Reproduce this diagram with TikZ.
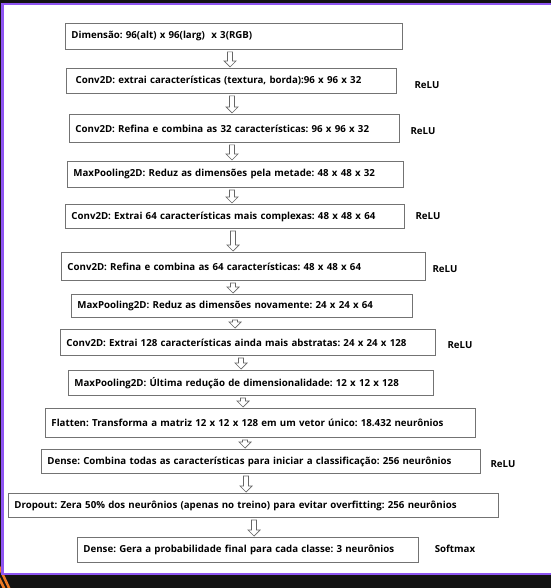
\documentclass[tikz,border=0pt]{standalone}
\usepackage{fontspec}
\setmainfont{Open Sans}
\usetikzlibrary{calc}

\definecolor{frame}{HTML}{131313}
\definecolor{edge}{HTML}{8E55F2}
\definecolor{stripe}{HTML}{F07A24}

\begin{document}
\frenchspacing
\begin{tikzpicture}[x=1pt, y=-1pt,
        layer/.style={rectangle, draw=black!55, line width=0.9pt, fill=white, anchor=north west, align=left, inner xsep=6pt, inner ysep=0pt, font=\bfseries\fontsize{9.7}{12}\selectfont},
        act/.style={font=\bfseries\fontsize{9.7}{12}\selectfont},
        flow/.style={draw=black!60, line width=0.7pt, fill=white,
            to path={($(\tikztostart)+(-2.5,2)$) -- ($(\tikztostart)+(2.5,2)$) -- ($(\tikztotarget)+(2.5,-7)$) -- ($(\tikztotarget)+(6,-7)$) -- ($(\tikztotarget)+(0,-1)$) -- ($(\tikztotarget)+(-6,-7)$) -- ($(\tikztotarget)+(-2.5,-7)$) -- cycle}}
    ]
        \useasboundingbox (0,0) rectangle (551,588);
        % screen frame
        \fill[frame] (0,0) rectangle (551,588);
        \begin{scope}
            \clip (0,560) rectangle (20,588);
            \draw[stripe, line width=2.5pt] (-4,560) -- (10,590);
            \draw[stripe, line width=2.5pt] (-2,576) -- (6,592);
        \end{scope}
        \fill[edge] (1,3) rectangle (551,575);
        \fill[white] (3.5,5.5) rectangle (551,572.5);

        % layers
        \node[layer, minimum width=337pt, minimum height=26pt, text width=325pt] (b1) at (65,23) {Dimensão: 96(alt) x 96(larg)\ \ x 3(RGB)};
        \node[layer, minimum width=330pt, minimum height=25pt, text width=318pt] (b2) at (66,68) {\ Conv2D: extrai características (textura, borda):96 x 96 x 32};
        \node[layer, minimum width=330pt, minimum height=28pt, text width=318pt] (b3) at (69,114) {Conv2D: Refina e combina as 32 características: 96 x 96 x 32};
        \node[layer, minimum width=336pt, minimum height=26pt, text width=324pt] (b4) at (67,161) {MaxPooling2D: Reduz as dimensões pela metade: 48 x 48 x 32};
        \node[layer, minimum width=339pt, minimum height=24pt, text width=327pt] (b5) at (65,204) {Conv2D: Extrai 64 características mais complexas: 48 x 48 x 64};
        \node[layer, minimum width=364pt, minimum height=28pt, text width=352pt] (b6) at (61,252) {Conv2D: Refina e combina as 64 características: 48 x 48 x 64};
        \node[layer, minimum width=341pt, minimum height=23pt, text width=329pt] (b7) at (71,294) {MaxPooling2D: Reduz as dimensões novamente: 24 x 24 x 64};
        \node[layer, minimum width=375pt, minimum height=26pt, text width=363pt] (b8) at (60,329) {Conv2D: Extrai 128 características ainda mais abstratas: 24 x 24 x 128};
        \node[layer, minimum width=365pt, minimum height=25pt, text width=353pt] (b9) at (68,370) {MaxPooling2D: Última redução de dimensionalidade: 12 x 12 x 128};
        \node[layer, minimum width=430pt, minimum height=29pt, text width=418pt] (b10) at (45,408) {Flatten: Transforma a matriz 12 x 12 x 128 em um vetor único: 18.432 neurônios};
        \node[layer, minimum width=439pt, minimum height=24pt, text width=427pt] (b11) at (41,449) {Dense: Combina todas as características para iniciar a classificação: 256 neurônios};
        \node[layer, minimum width=490pt, minimum height=24pt, text width=478pt] (b12) at (8,493) {Dropout: Zera 50\% dos neurônios (apenas no treino) para evitar overfitting: 256 neurônios};
        \node[layer, minimum width=341pt, minimum height=25pt, text width=329pt] (b13) at (77,537) {Dense: Gera a probabilidade final para cada classe: 3 neurônios};

        % activations
        \node[act] (r2) at (427,85) {ReLU};
        \node[act] (r3) at (423,131) {ReLU};
        \node[act] (r5) at (428,216) {ReLU};
        \node[act] (r6) at (445,269) {ReLU};
        \node[act] (r8) at (460,345) {ReLU};
        \node[act] (r11) at (503,464) {ReLU};
        \node[act] (s13) at (455,549) {Softmax};

        % hollow arrows
        \draw[flow] (b1.south -| 230,0) to (b2.north -| 230,0);
        \draw[flow] (b2.south -| 232,0) to (b3.north -| 232,0);
        \draw[flow] (b3.south -| 232,0) to (b4.north -| 232,0);
        \draw[flow] (b4.south -| 232,0) to (b5.north -| 232,0);
        \draw[flow] (b5.south -| 233,0) to (b6.north -| 233,0);
        \draw[flow] (b6.south -| 233,0) to (b7.north -| 233,0);
        \draw[flow] (b7.south -| 235,0) to (b8.north -| 235,0);
        \draw[flow] (b8.south -| 241,0) to (b9.north -| 241,0);
        \draw[flow] (b9.south -| 243,0) to (b10.north -| 243,0);
        \draw[flow] (b10.south -| 245,0) to (b11.north -| 245,0);
        \draw[flow] (b11.south -| 246,0) to (b12.north -| 246,0);
        \draw[flow] (b12.south -| 254,0) to (b13.north -| 254,0);
    \end{tikzpicture}
\end{document}
